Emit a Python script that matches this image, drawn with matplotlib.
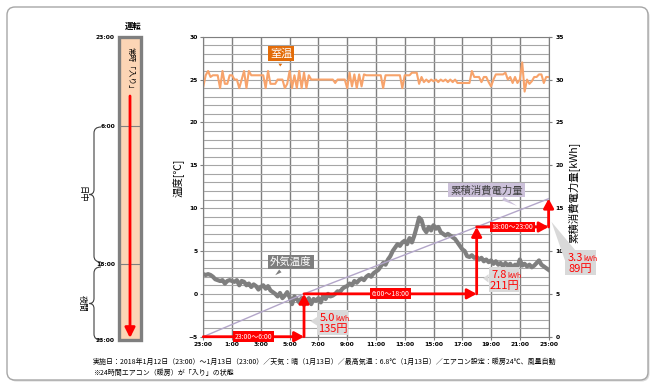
import numpy as np
import matplotlib
matplotlib.use('Agg')
import matplotlib.pyplot as plt
import matplotlib.transforms as mtransforms
from matplotlib.patches import FancyBboxPatch, Rectangle, Polygon, PathPatch
from matplotlib.path import Path
from matplotlib.ticker import MultipleLocator

plt.rcParams['font.family'] = ['Noto Sans CJK JP', 'DejaVu Sans']

# %% data
x_ticks = [0, 2, 4, 6, 8, 10, 12, 14, 16, 18, 20, 22, 24]
x_labels = ['23:00', '1:00', '3:00', '5:00', '7:00', '9:00', '11:00',
            '13:00', '15:00', '17:00', '19:00', '21:00', '23:00']

# 10 minute samples, 23:00 -> 23:00
room_temp = [
    24.2, 25.5, 26.0, 25.3, 25.5, 25.5,
    25.5, 24.0, 26.0, 24.5, 24.5, 25.5,
    25.5, 25.0, 25.0, 24.0, 25.0, 26.0,
    24.0, 26.0, 25.5, 25.5, 25.5, 25.5,
    25.5, 25.5, 24.0, 26.0, 24.5, 24.5,
    24.5, 25.0, 25.0, 25.0, 24.0, 24.5,
    26.0, 24.0, 25.5, 24.0, 26.0, 24.0,
    25.8, 24.0, 25.5, 25.0, 25.0, 25.0,
    25.0, 25.0, 25.0, 25.0, 25.0, 25.0,
    25.0, 24.6, 25.0, 25.0, 25.0, 25.0,
    24.0, 25.8, 24.2, 25.6, 24.0, 25.6,
    24.2, 25.6, 25.5, 25.5, 25.5, 25.5,
    25.5, 25.5, 25.5, 24.0, 25.5, 25.5,
    25.5, 25.5, 25.5, 25.5, 25.5, 24.0,
    25.5, 25.5, 25.5, 25.8, 25.8, 25.8,
    24.5, 25.3, 24.7, 25.0, 24.7, 25.0,
    24.8, 25.0, 24.7, 25.0, 24.8, 25.0,
    24.7, 25.0, 24.7, 25.0, 24.6, 24.6,
    24.6, 24.6, 24.6, 24.6, 26.0, 25.3,
    25.3, 25.3, 24.7, 25.3, 25.3, 24.7,
    24.2, 25.0, 25.6, 25.6, 25.6, 25.6,
    25.8, 25.0, 25.3, 24.6, 25.3, 24.6,
    25.0, 27.0, 23.6, 25.0, 24.5, 24.8,
    25.3, 25.3, 25.6, 25.6, 24.6, 25.3,
    25.3]

outside_temp = [
    2.3, 2.2, 2.3, 2.2, 2.0, 1.7,
    1.6, 1.5, 1.6, 1.2, 1.5, 1.6,
    1.5, 1.4, 1.6, 1.0, 1.5, 1.4,
    1.0, 1.2, 0.8, 1.1, 0.9, 0.5,
    0.8, 1.0, 0.6, 0.9, 0.4, 0.2,
    0.0, -0.3, 0.1, -0.5, -0.2, 0.2,
    -0.4, -1.2, -0.3, -0.6, -1.0, -0.5,
    -1.3, -0.8, -0.5, -1.2, -0.6, -0.8,
    -0.5, -1.0, -0.2, -0.6, 0.0, -0.3,
    -0.2, 0.0, 0.3, 0.2, 0.6, 0.8,
    0.9, 1.2, 1.0, 1.5, 1.3, 1.6,
    1.8, 1.6, 2.0, 2.2, 2.0, 2.4,
    2.6, 2.8, 3.2, 3.6, 3.4, 4.0,
    4.4, 5.0, 5.4, 5.8, 5.6, 6.0,
    6.2, 5.8, 6.5, 6.0, 6.8, 7.8,
    8.9, 8.6, 7.6, 7.2, 7.8, 7.4,
    8.0, 7.6, 7.8, 7.2, 7.0, 6.8,
    7.0, 6.8, 6.6, 6.4, 6.0, 5.6,
    5.2, 5.0, 4.4, 4.3, 4.5, 4.2,
    4.3, 4.0, 4.2, 3.8, 4.0, 3.7,
    3.9, 3.5, 3.8, 3.4, 3.6, 3.2,
    3.6, 3.3, 3.5, 3.0, 3.4, 3.2,
    4.0, 3.3, 3.5, 3.2, 3.4, 3.1,
    3.3, 3.6, 3.9, 3.4, 3.2, 3.0,
    2.8]

cum_hours = [0, 7, 19, 24]
cum_kwh = [0.0, 5.0, 12.8, 16.1]
periods = ['23:00～6:00', '6:00～18:00', '18:00～23:00']
period_kwh = [5.0, 7.8, 3.3]
period_yen = [135, 211, 89]
panel_labels = ['23:00', '6:00', '18:00', '23:00']
bands = ['日中', '夜間']

footer1 = ('実施日：2018年1月12日（23:00）～1月13日（23:00）／天気：晴（1月13日）'
           '／最高気温：6.8℃（1月13日）／エアコン設定：暖房24℃、風量自動')
footer2 = '※24時間エアコン（暖房）が「入り」の状態'

# %% layout
W, H = 655, 389
RED = '#FF0000'
fig = plt.figure(figsize=(W / 100, H / 100), dpi=100)

bg = fig.add_axes([0, 0, 1, 1])
bg.set_xlim(0, W)
bg.set_ylim(H, 0)
bg.axis('off')

# outer frame with a light shadow
bg.add_patch(FancyBboxPatch((8.5, 8.5), 641, 373, boxstyle='round,pad=0,rounding_size=8',
                            fc='#D9D9D9', ec='none'))
bg.add_patch(FancyBboxPatch((7, 7), 641, 373, boxstyle='round,pad=0,rounding_size=8',
                            fc='white', ec='#A6A6A6', lw=1.0))

# left panel: operating bar
panel_y = [37, 126, 264, 340]
bg.add_patch(Rectangle((119, 37), 22, 303, fc='#FCD5B5', ec='#7F7F7F', lw=2.4))
for y in panel_y[1:3]:
    bg.plot([120, 140], [y, y], color='#7F7F7F', lw=0.8)
for y, lab in zip(panel_y, panel_labels):
    bg.text(115, y, lab, ha='right', va='center', fontsize=4.3, family='DejaVu Sans',
            fontweight='bold')
bg.annotate('', xy=(130, 338), xytext=(130, 96),
            arrowprops=dict(arrowstyle='-|>,head_width=0.3,head_length=0.6',
                            color=RED, lw=2.0, shrinkA=0, shrinkB=0))
bg.text(130, 70, '常時「入り」', rotation=-90, ha='center', va='center', fontsize=5.5)
bg.text(133, 26, '運転', ha='center', va='center', fontsize=6, fontweight='bold')


def brace(y0, y1, xr=101, xm=94, xl=89):
    ym = (y0 + y1) / 2
    verts = [(xr, y0), (xm, y0), (xm, y0 + 6), (xm, ym - 5), (xm, ym), (xl, ym),
             (xm, ym), (xm, ym + 5), (xm, y1 - 6), (xm, y1), (xr, y1)]
    codes = [Path.MOVETO, Path.CURVE3, Path.CURVE3, Path.LINETO, Path.CURVE3, Path.CURVE3,
             Path.CURVE3, Path.CURVE3, Path.LINETO, Path.CURVE3, Path.CURVE3]
    bg.add_patch(PathPatch(Path(verts, codes), fc='none', ec='#404040', lw=0.8))
    return ym


for (y0, y1), lab in zip([(127, 262), (267, 340)], bands):
    ym = brace(y0, y1)
    bg.text(82, ym, lab, rotation=-90, ha='center', va='center', fontsize=6)

bg.text(93, 362, footer1, ha='left', va='center', fontsize=5.0)
bg.text(93, 373, footer2, ha='left', va='center', fontsize=5.0)

# %% main chart
ax = fig.add_axes([203.3 / W, 1 - 336.7 / H, 345.3 / W, 300 / H])
ax.set_xlim(0, 24)
ax.set_ylim(-5, 30)
ax.set_xticks(x_ticks)
ax.set_xticklabels(x_labels)
ax.yaxis.set_major_locator(MultipleLocator(5))
ax.yaxis.set_minor_locator(MultipleLocator(1))
ax.grid(which='both', axis='y', color='#A6A6A6', lw=0.8)
ax.grid(which='major', axis='x', color='#7F7F7F', lw=1.0)
ax.set_axisbelow(True)
for s in ax.spines.values():
    s.set_color('#7F7F7F')
ax.tick_params(which='major', length=2, width=0.8, color='#7F7F7F', labelsize=4.3, pad=2)
ax.tick_params(which='minor', length=0)

ax2 = ax.twinx()
ax2.set_ylim(0, 35)
ax2.yaxis.set_major_locator(MultipleLocator(5))
ax2.tick_params(length=2, width=0.8, color='#7F7F7F', labelsize=4.3, pad=3)
for s in ax2.spines.values():
    s.set_visible(False)
for lab in ax.get_xticklabels() + ax.get_yticklabels() + ax2.get_yticklabels():
    lab.set_fontweight('bold')
    lab.set_family('DejaVu Sans')

t = np.arange(len(room_temp)) / 6
ax.plot(t, room_temp, color='#F7A36B', lw=1.5)
ax.plot(t, outside_temp, color='#7F7F7F', lw=3.0)
ax2.plot(cum_hours, cum_kwh, color='#B3A6C9', lw=1.0)

# step arrows for the energy used in each period
aprops = dict(arrowstyle='-|>,head_width=0.3,head_length=0.55', color=RED, lw=2.0,
              shrinkA=0, shrinkB=0)
for i, lab in enumerate(periods):
    h0, h1 = cum_hours[i], cum_hours[i + 1]
    k0, k1 = cum_kwh[i], cum_kwh[i + 1]
    ax2.annotate('', xy=(h1, k0), xytext=(h0, k0), arrowprops=aprops, zorder=4)
    ax2.annotate('', xy=(h1, k1), xytext=(h1, k0), arrowprops=aprops, zorder=4)
    ax2.text((h0 + h1) / 2, k0, lab, ha='center', va='center', color='white', fontsize=5,
             zorder=6, bbox=dict(boxstyle='square,pad=0.2', fc=RED, ec='none'))

# kWh / yen callouts
call_x = [8.98, 20.9, 26.2]
call_y = [1.7, 6.7, 8.7]
bw, bh = 2.15, 2.9
for i in range(3):
    cx, cy = call_x[i], call_y[i]
    bx0, by1 = cx - bw / 2, cy + bh / 2
    ax2.add_patch(Rectangle((bx0, cy - bh / 2), bw, bh, fc='#D9D9D9', ec='none',
                            clip_on=False, zorder=5))
    if i < 2:
        tip = (cum_hours[i + 1] + 0.45, cy + 0.1)
        ax2.add_patch(Polygon([(bx0, cy + 0.6), (bx0, cy - 0.4), tip], fc='#D9D9D9',
                              ec='none', clip_on=False, zorder=5))
    else:
        tip = (cum_hours[-1] + 0.2, 13.4)
        ax2.add_patch(Polygon([(bx0, by1 - 1.2), (bx0 + 0.7, by1), tip], fc='#D9D9D9',
                              ec='none', clip_on=False, zorder=5))
    tr1 = mtransforms.offset_copy(ax2.transData, fig=fig, x=3, y=1.5, units='dots')
    tr2 = mtransforms.offset_copy(ax2.transData, fig=fig, x=0, y=-10, units='dots')
    ax2.text(cx, cy, f'{period_kwh[i]:.1f}', transform=tr1, ha='right', va='baseline',
             color=RED, fontsize=8, zorder=6, clip_on=False)
    ax2.text(cx, cy, 'kWh', transform=tr1, ha='left', va='baseline',
             color=RED, fontsize=5, zorder=6, clip_on=False)
    ax2.text(cx, cy, f'{period_yen[i]}円', transform=tr2, ha='center', va='baseline',
             color=RED, fontsize=8, zorder=6, clip_on=False)

# series labels
ax.annotate('室温', xy=(5.33, 26.2), xytext=(5.4, 28.05), ha='center', va='center',
            color='white', fontsize=8,
            bbox=dict(boxstyle='square,pad=0.2', fc='#E36C09', ec='none'),
            arrowprops=dict(arrowstyle='wedge,tail_width=0.35', fc='#E36C09', ec='none'))
ax.annotate('外気温度', xy=(4.85, 1.96), xytext=(6.09, 3.72), ha='center', va='center',
            color='white', fontsize=7.5,
            bbox=dict(boxstyle='square,pad=0.2', fc='#7F7F7F', ec='none'),
            arrowprops=dict(arrowstyle='wedge,tail_width=0.35', fc='#7F7F7F', ec='none'))
ax2.annotate('累積消費電力量', xy=(21.98, 15.1), xytext=(19.7, 17.1), ha='center',
             va='center', color='#404040', fontsize=7.5, zorder=6,
             bbox=dict(boxstyle='square,pad=0.2', fc='#CCC1DA', ec='none'),
             arrowprops=dict(arrowstyle='wedge,tail_width=0.35', fc='#CCC1DA', ec='none'))

fig.text(178 / W, 1 - 178 / H, '温度[℃]', rotation=90, ha='center', va='center', fontsize=7.5)
fig.text(574 / W, 1 - 192 / H, '累積消費電力量[kWh]', rotation=90, ha='center', va='center',
         fontsize=7.5)

fig.savefig('out.png', dpi=100)
